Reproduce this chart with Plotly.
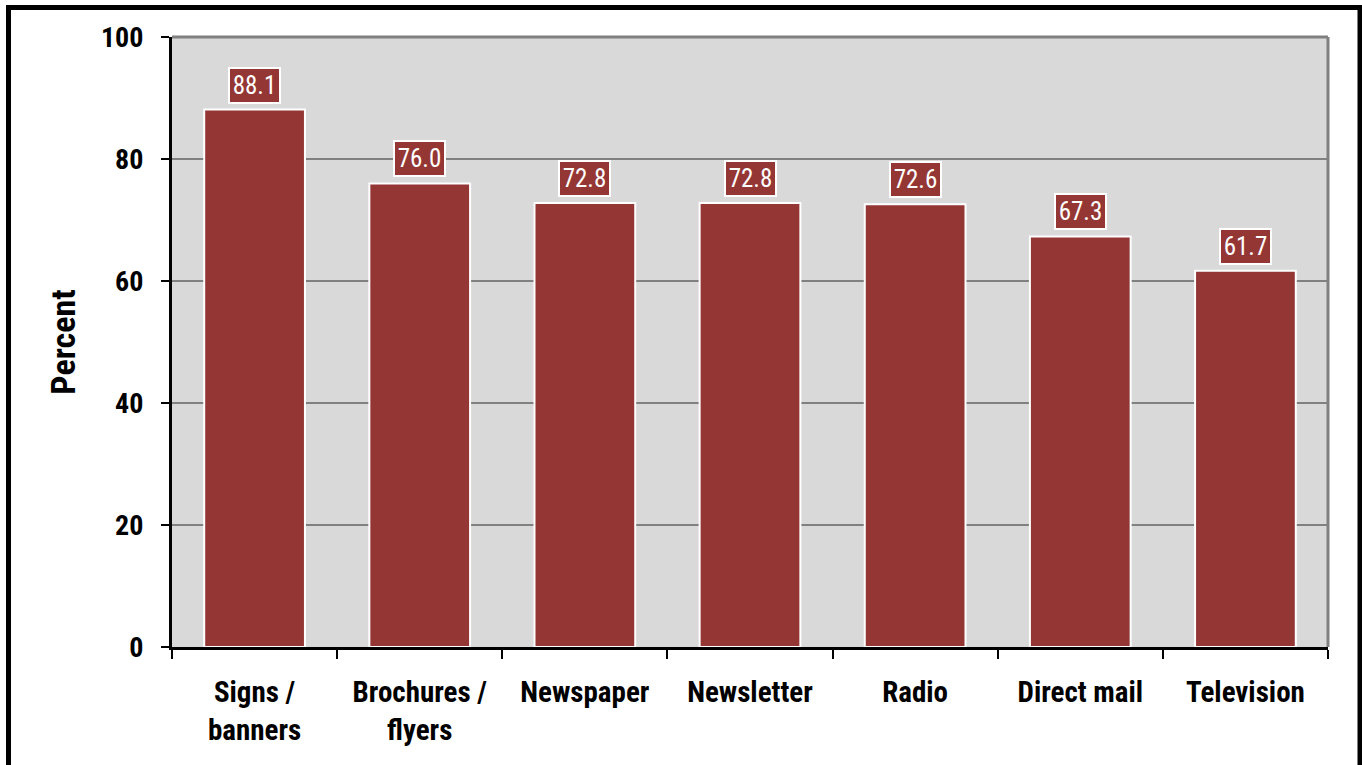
import plotly.graph_objects as go

categories = ["Signs /<br>banners", "Brochures /<br>flyers", "Newspaper", "Newsletter", "Radio", "Direct mail", "Television"]
values = [88.1, 76.0, 72.8, 72.8, 72.6, 67.3, 61.7]
y_ticks = [0, 20, 40, 60, 80, 100]

FONT = "Liberation Sans Narrow, Arial Narrow, Roboto Condensed, sans-serif"
BAR = "#943634"

fig = go.Figure()
fig.add_trace(go.Bar(
    x=categories, y=values,
    marker=dict(color=BAR, line=dict(color="white", width=2)),
    width=0.61,
    hoverinfo="skip",
))

for c, v in zip(categories, values):
    fig.add_annotation(
        x=c, y=v, text=f"{v:.1f}", showarrow=False,
        yanchor="bottom", yshift=6, width=45,
        font=dict(family=FONT, size=25, color="white"),
        bgcolor=BAR, bordercolor="white", borderwidth=2, borderpad=2,
    )

fig.update_layout(
    width=1362, height=765,
    margin=dict(l=172, r=34, t=37, b=118),
    paper_bgcolor="white",
    plot_bgcolor="#d9d9d9",
    showlegend=False,
    font=dict(family=FONT, color="black"),
)
fig.update_xaxes(
    tickson="boundaries", ticks="outside", ticklen=9, tickwidth=2, tickcolor="black",
    showline=True, linecolor="black", linewidth=3,
    tickfont=dict(family=FONT, size=29, color="black", weight="bold"),
    ticklabelstandoff=17,
    showgrid=False,
)
fig.update_yaxes(
    range=[0, 100], tickvals=y_ticks, ticks="outside", ticklen=8, tickwidth=2, tickcolor="black",
    showline=True, linecolor="black", linewidth=3,
    gridcolor="#808080", gridwidth=2,
    tickfont=dict(family=FONT, size=28, color="black", weight="bold"),
    ticklabelstandoff=12,
    title=dict(text="Percent", font=dict(family=FONT, size=34, color="black", weight="bold"), standoff=16),
    zeroline=False,
)
# right and top plot border (gray)
fig.add_shape(type="line", xref="paper", yref="paper", x0=1, x1=1, y0=0, y1=1,
              line=dict(color="#808080", width=3))
fig.add_shape(type="line", xref="paper", yref="paper", x0=0, x1=1, y0=1, y1=1,
              line=dict(color="#808080", width=3))
# outer frame
fig.add_shape(type="rect", xref="paper", yref="paper",
              x0=(8.5 - 172) / 1156, x1=(1360 - 172) / 1156,
              y0=-0.5, y1=(647 - 7.5) / 610,
              line=dict(color="black", width=5), fillcolor="rgba(0,0,0,0)", layer="above")

fig.write_html("out.html", config={"displayModeBar": False},
               post_script="document.body.style.margin='0';document.body.style.overflow='hidden';")
